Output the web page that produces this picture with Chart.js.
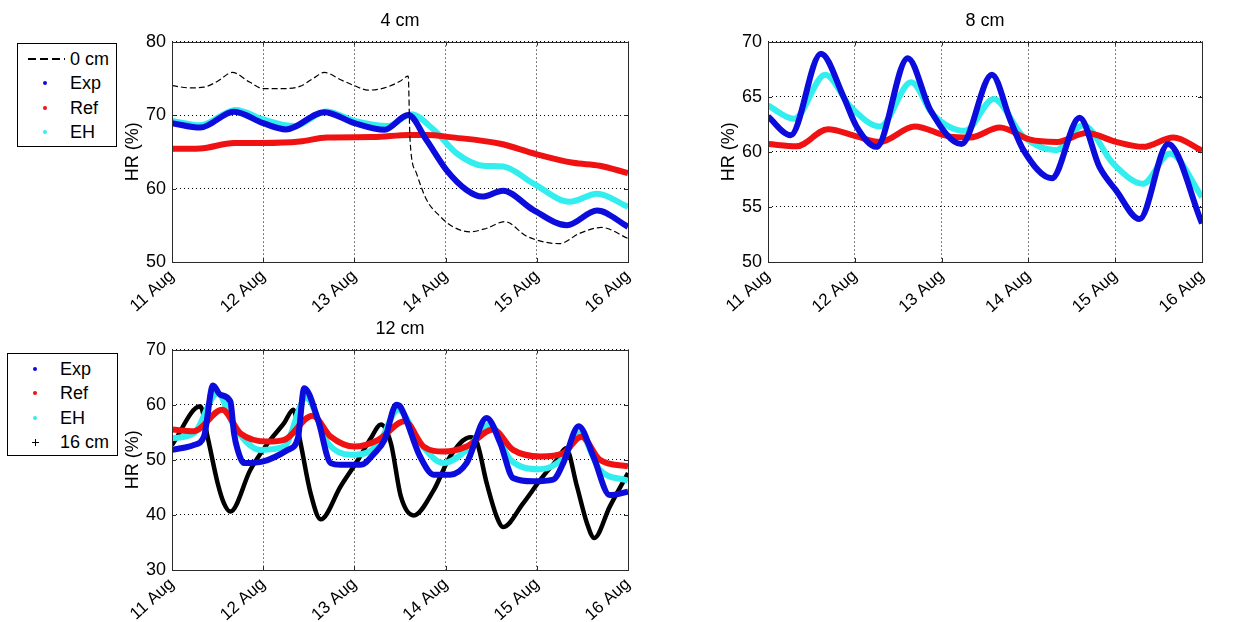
<!DOCTYPE html>
<html>
<head>
<meta charset="utf-8">
<script src="https://cdn.jsdelivr.net/npm/chart.js@4.4.0/dist/chart.umd.min.js"></script>
<style>
  body { margin: 0; background: #fff; width: 1238px; height: 622px; position: relative; overflow: hidden;
         font-family: "Liberation Sans", Arial, sans-serif; }
  canvas { position: absolute; }
  .legend { position: absolute; box-sizing: border-box; border: 1px solid #000; background: #fff; z-index: 2; }
  .legend .row { position: absolute; left: 0; width: 100%; height: 24px; }
  .legend .tx { position: absolute; left: 52px; top: 0; line-height: 24px; font-size: 18px; color: #000; }
  .mk { position: absolute; }
  .mk.dot { left: 25px; top: 10px; width: 4px; height: 4px; border-radius: 50%; background: var(--c); }
  .mk.dash { left: 10px; top: 11px; width: 37px; height: 1.5px;
             background: repeating-linear-gradient(90deg, #000 0 8px, transparent 8px 12px); }
  .mk.plus { left: 24px; top: 9px; width: 7px; height: 7px;
             background: linear-gradient(#000,#000) center/7px 1px no-repeat, linear-gradient(#000,#000) center/1px 7px no-repeat; }
</style>
</head>
<body>
<canvas id="c4" width="532" height="320" style="left:120px;top:0px"></canvas>
<canvas id="c8" width="510" height="320" style="left:716px;top:0px"></canvas>
<canvas id="c12" width="532" height="314" style="left:120px;top:308px"></canvas>
<div id="leg4" class="legend" style="left:17px;top:43px;width:100px;height:104px"></div>
<div id="leg12" class="legend" style="left:7px;top:353px;width:111px;height:103px"></div>

<script>
const dayLabels = ['11 Aug', '12 Aug', '13 Aug', '14 Aug', '15 Aug', '16 Aug'];

// ---- 4 cm ----
const day4Surf = [0, 0.2, 0.35, 0.5, 0.66, 0.85, 1.0, 1.2, 1.4, 1.55, 1.67, 1.85, 2.0, 2.15, 2.33, 2.5, 2.59,
                  2.61, 2.68, 2.79, 2.94, 3.08, 3.27, 3.45, 3.65, 3.89, 4.25, 4.47, 4.71, 5.0];
const hr4Surf  = [74.0, 73.7, 73.8, 74.6, 75.8, 74.5, 73.6, 73.6, 73.9, 75.0, 75.8, 74.8, 74.0, 73.4, 73.7, 74.6, 75.3,
                  66.6, 62.1, 58.5, 56.2, 54.8, 54.1, 54.6, 55.5, 53.5, 52.5, 53.9, 54.7, 53.2];
const day4Exp = [0, 0.31, 0.68, 1.0, 1.25, 1.67, 2.0, 2.33, 2.59, 2.79, 3.01, 3.23, 3.40, 3.63, 3.96, 4.33, 4.66, 5.0];
const hr4Exp  = [68.9, 68.3, 70.45, 68.9, 68.05, 70.4, 68.9, 68.0, 70.0, 66.6, 62.5, 59.8, 58.9, 59.7, 57.1, 55.0, 57.0, 54.8];
const day4Ref = [0, 0.31, 0.68, 1.0, 1.4, 1.7, 2.2, 2.6, 2.8, 3.05, 3.6, 3.96, 4.4, 4.69, 5.0];
const hr4Ref  = [65.4, 65.45, 66.2, 66.2, 66.4, 66.95, 67.0, 67.3, 67.3, 67.0, 66.1, 64.8, 63.5, 63.1, 62.1];
const day4EH  = [0, 0.31, 0.70, 1.0, 1.34, 1.69, 2.0, 2.37, 2.62, 2.87, 3.12, 3.41, 3.63, 3.96, 4.36, 4.66, 5.0];
const hr4EH   = [69.2, 68.6, 70.7, 69.4, 68.5, 70.5, 69.2, 68.5, 70.1, 68.0, 64.8, 63.1, 63.0, 60.7, 58.2, 59.3, 57.5];

// ---- 8 cm ----
const day8Exp = [0, 0.26, 0.61, 0.87, 1.02, 1.25, 1.61, 1.87, 2.23, 2.58, 2.79, 2.94, 3.27, 3.59, 3.82, 4.01, 4.28, 4.61, 5.0];
const hr8Exp  = [63.2, 61.5, 68.9, 65.0, 62.3, 60.45, 68.5, 63.8, 60.7, 67.0, 62.9, 60.2, 57.6, 63.1, 58.6, 56.5, 53.9, 60.7, 53.5];
const day8Ref = [0, 0.33, 0.69, 1.02, 1.29, 1.69, 2.08, 2.33, 2.67, 3.02, 3.33, 3.67, 4.01, 4.32, 4.67, 5.0];
const hr8Ref  = [60.7, 60.5, 62.05, 61.4, 60.9, 62.3, 61.4, 61.3, 62.2, 61.1, 60.9, 61.7, 60.9, 60.45, 61.3, 60.1];
const day8EH  = [0, 0.30, 0.66, 0.95, 1.29, 1.65, 1.9, 2.27, 2.6, 2.94, 3.32, 3.63, 3.98, 4.32, 4.63, 5.0];
const hr8EH   = [64.2, 63.0, 67.0, 64.1, 62.3, 66.3, 63.4, 61.9, 64.8, 61.4, 60.15, 62.4, 58.9, 57.1, 59.85, 55.9];

// ---- 12 cm ----
const day12Exp = [0, 0.24, 0.35, 0.45, 0.53, 0.64, 0.68, 0.72, 0.79, 1.0, 1.27, 1.38, 1.45, 1.6, 1.74, 1.85, 2.07, 2.22,
                  2.33, 2.46, 2.5, 2.72, 2.87, 3.05, 3.23, 3.45, 3.6, 3.74, 3.96, 4.18, 4.29, 4.46, 4.62, 4.80, 5.0];
const hr12Exp  = [51.8, 52.7, 54.2, 63.5, 61.8, 60.6, 54.8, 51.8, 49.4, 49.7, 51.8, 53.9, 63.0, 57.3, 49.4, 49.1, 49.1, 51.2,
                  53.6, 60.0, 59.7, 50.6, 47.3, 47.3, 49.4, 57.6, 53.0, 46.7, 46.1, 46.4, 49.4, 56.1, 50.6, 43.6, 44.2];
const day12Ref = [0, 0.24, 0.55, 0.75, 1.05, 1.23, 1.54, 1.74, 2.0, 2.26, 2.55, 2.76, 2.98, 3.23, 3.52, 3.74, 4.04, 4.29, 4.49, 4.69, 5.0];
const hr12Ref  = [55.5, 55.2, 59.1, 54.8, 53.3, 53.6, 58.0, 54.2, 52.4, 53.6, 57.0, 52.4, 51.5, 52.4, 55.5, 51.8, 50.6, 51.2, 54.2, 50.0, 48.8];
const day12EH  = [0, 0.24, 0.5, 0.68, 0.97, 1.23, 1.47, 1.71, 1.96, 2.26, 2.48, 2.72, 2.98, 3.23, 3.49, 3.71, 4.04, 4.29, 4.47, 4.69, 5.0];
const hr12EH   = [53.9, 54.8, 62.1, 56.1, 51.8, 52.4, 61.2, 53.0, 50.9, 52.7, 59.1, 53.0, 49.4, 51.8, 56.4, 50.0, 48.3, 50.3, 54.8, 48.2, 46.2];
const day16cm  = [0, 0.31, 0.39, 0.5, 0.57, 0.64, 0.86, 1.05, 1.23, 1.33, 1.41, 1.52, 1.63, 1.85, 2.04, 2.18, 2.29, 2.40, 2.51,
                  2.65, 2.87, 3.05, 3.27, 3.34, 3.45, 3.56, 3.63, 3.85, 4.04, 4.22, 4.32, 4.44, 4.55, 4.63, 4.80, 5.0];
const hr16cm   = [52.7, 59.7, 54.2, 45.8, 42.1, 40.6, 48.2, 53.0, 56.7, 59.1, 53.0, 43.9, 39.2, 45.2, 50.0, 53.9, 56.4, 53.0, 43.3,
                  39.9, 44.5, 50.6, 54.1, 53.3, 45.8, 39.7, 37.8, 42.1, 46.4, 50.0, 52.1, 45.2, 38.5, 35.8, 41.5, 47.6];

const cExp = '#0c0cdc', cRef = '#f01212', cEH = '#33eeee', cBlk = '#000000';
const FONT = '"Liberation Sans", Arial, sans-serif';
Chart.defaults.font.family = FONT;
Chart.defaults.font.size = 18;
Chart.defaults.color = '#000';

// MATLAB-like box with inward tick marks
const boxPlugin = {
  id: 'box',
  afterDraw(chart) {
    const { ctx, chartArea: a, scales } = chart;
    ctx.save();
    ctx.strokeStyle = '#2a2a2a';
    ctx.lineWidth = 1;
    ctx.strokeRect(Math.round(a.left) + 0.5, Math.round(a.top) + 0.5, Math.round(a.right - a.left), Math.round(a.bottom - a.top));
    ctx.beginPath();
    scales.x.ticks.forEach(t => {
      const x = Math.round(scales.x.getPixelForValue(t.value)) + 0.5;
      ctx.moveTo(x, a.bottom); ctx.lineTo(x, a.bottom - 4);
      ctx.moveTo(x, a.top); ctx.lineTo(x, a.top + 4);
    });
    scales.y.ticks.forEach(t => {
      const y = Math.round(scales.y.getPixelForValue(t.value)) + 0.5;
      ctx.moveTo(a.left, y); ctx.lineTo(a.left + 4, y);
      ctx.moveTo(a.right, y); ctx.lineTo(a.right - 4, y);
    });
    ctx.stroke();
    ctx.restore();
  }
};

function series(label, days, hr, color, width, dash) {
  return {
    label: label,
    data: days.map((d, i) => ({ x: d, y: hr[i] })),
    borderColor: color,
    backgroundColor: color,
    borderWidth: width,
    borderDash: dash || [],
    pointRadius: 0,
    cubicInterpolationMode: 'monotone',
    fill: false
  };
}

function makeChart(id, title, yMin, yMax, yStep, xHeight, datasets) {
  return new Chart(document.getElementById(id), {
    type: 'line',
    data: { datasets: datasets },
    options: {
      responsive: false,
      animation: false,
      events: [],
      layout: { padding: { right: 24 } },
      plugins: {
        legend: { display: false },
        tooltip: { enabled: false },
        title: { display: true, text: title, fullSize: false, color: '#000',
                 font: { size: 18, weight: 'normal' }, padding: { top: 10, bottom: 10 } }
      },
      scales: {
        x: {
          type: 'linear', min: 0, max: 5,
          afterBuildTicks: ax => { ax.ticks = dayLabels.map((_, i) => ({ value: i })); },
          ticks: { autoSkip: false, maxRotation: 42, minRotation: 42, padding: 4, font: { size: 17 },
                   callback: (v, i) => dayLabels[i] },
          grid: { color: '#000', lineWidth: 1, drawTicks: false },
          border: { display: false, dash: [1, 3] },
          afterFit: s => { s.height = xHeight; }
        },
        y: {
          min: yMin, max: yMax,
          ticks: { stepSize: yStep, padding: 6 },
          grid: { color: '#000', lineWidth: 1, drawTicks: false },
          border: { display: false, dash: [1, 3] },
          title: { display: true, text: 'HR (%)', color: '#000', font: { size: 18 }, padding: { top: 2, bottom: 0 } },
          afterFit: s => { s.width = 52; }
        }
      }
    },
    plugins: [boxPlugin]
  });
}

const chart4 = makeChart('c4', '4 cm', 50, 80, 10, 58, [
  series('0 cm', day4Surf, hr4Surf, cBlk, 1.2, [6, 3]),
  series('Exp', day4Exp, hr4Exp, cExp, 6),
  series('Ref', day4Ref, hr4Ref, cRef, 6),
  series('EH', day4EH, hr4EH, cEH, 6)
]);

const chart8 = makeChart('c8', '8 cm', 50, 70, 5, 58, [
  series('Exp', day8Exp, hr8Exp, cExp, 6),
  series('Ref', day8Ref, hr8Ref, cRef, 6),
  series('EH', day8EH, hr8EH, cEH, 6)
]);

const chart12 = makeChart('c12', '12 cm', 30, 70, 10, 52, [
  series('Exp', day12Exp, hr12Exp, cExp, 6),
  series('Ref', day12Ref, hr12Ref, cRef, 6),
  series('EH', day12EH, hr12EH, cEH, 6),
  series('16 cm', day16cm, hr16cm, cBlk, 4.5)
]);

function buildLegend(el, chart, markers) {
  chart.data.datasets.forEach((ds, i) => {
    const row = document.createElement('div');
    row.className = 'row';
    row.style.top = (3 + i * 24.4) + 'px';
    const m = document.createElement('span');
    m.className = 'mk ' + markers[i];
    m.style.setProperty('--c', ds.borderColor);
    const t = document.createElement('span');
    t.className = 'tx';
    t.textContent = ds.label;
    row.append(m, t);
    el.append(row);
  });
}
buildLegend(document.getElementById('leg4'), chart4, ['dash', 'dot', 'dot', 'dot']);
buildLegend(document.getElementById('leg12'), chart12, ['dot', 'dot', 'dot', 'plus']);
</script>
</body>
</html>
